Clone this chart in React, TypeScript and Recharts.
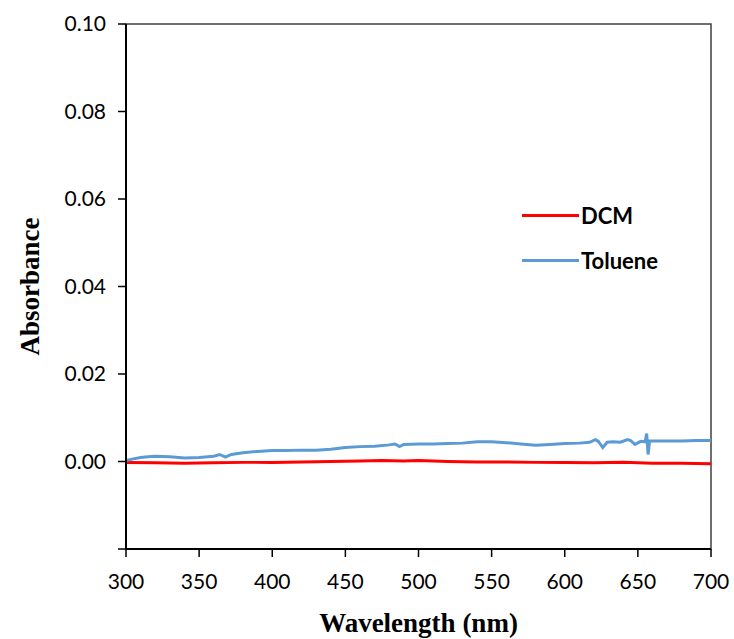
import React from "react";
import { LineChart, Line, XAxis, YAxis, ReferenceArea } from "recharts";

// UV-vis absorbance
const tolueneNm = [
  300, 305, 310, 315, 320, 330, 340, 350, 360, 364, 368, 372, 380, 390, 400,
  410, 420, 430, 440, 450, 460, 470, 480, 484, 487, 490, 500, 510, 520, 530,
  540, 550, 560, 570, 580, 590, 600, 610, 617, 621, 623, 626, 629, 633, 638,
  643, 645, 648, 652, 655, 656, 657, 658, 665, 680, 690, 700,
];
const tolueneAbs = [
  0.0002, 0.0006, 0.0009, 0.0011, 0.0012, 0.0011, 0.0008, 0.0009, 0.0012,
  0.0016, 0.001, 0.0016, 0.002, 0.0023, 0.0025, 0.0025, 0.0026, 0.0026, 0.0028,
  0.0032, 0.0034, 0.0035, 0.0038, 0.004, 0.0034, 0.0039, 0.004, 0.004, 0.0041,
  0.0042, 0.0045, 0.0045, 0.0043, 0.004, 0.0037, 0.0039, 0.0041, 0.0042,
  0.0044, 0.005, 0.0046, 0.0032, 0.0044, 0.0045, 0.0044, 0.005, 0.0048, 0.0039,
  0.0046, 0.0045, 0.0064, 0.0016, 0.0047, 0.0047, 0.0047, 0.0048, 0.0048,
];

const dcmNm = [
  300, 320, 340, 360, 380, 400, 420, 440, 460, 475, 490, 500, 520, 540, 560,
  580, 600, 620, 640, 660, 680, 700,
];
const dcmAbs = [
  -0.0002, -0.0003, -0.0004, -0.0003, -0.0002, -0.0002, -0.0001, 0.0, 0.0001,
  0.0002, 0.0001, 0.0002, 0.0, -0.0001, -0.0001, -0.0002, -0.0002, -0.0003,
  -0.0002, -0.0004, -0.0004, -0.0005,
];

const xTicks = [300, 350, 400, 450, 500, 550, 600, 650, 700];
const yTicks = [-0.02, 0, 0.02, 0.04, 0.06, 0.08, 0.1];

const series = [
  { name: "DCM", color: "#ff0000" },
  { name: "Toluene", color: "#5b9bd5" },
];

const tolueneData = tolueneNm.map((x, i) => ({ x, y: tolueneAbs[i] }));
const dcmData = dcmNm.map((x, i) => ({ x, y: dcmAbs[i] }));

const tickFont = { fontSize: 21, fill: "#000", fontFamily: "Lato, sans-serif" };
const titleFont = {
  fontFamily: "'Liberation Serif', serif",
  fontWeight: 700,
  fontSize: 27,
  fill: "#000",
};

function LegendBox() {
  return (
    <div
      style={{
        position: "absolute",
        left: 522,
        top: 193,
        fontFamily: "Lato, sans-serif",
        fontWeight: 700,
        fontSize: 22,
      }}
    >
      {series.map((s) => (
        <div key={s.name} style={{ display: "flex", alignItems: "center", height: 45 }}>
          <div style={{ width: 57, height: 3, background: s.color, marginRight: 2 }} />
          <span>{s.name}</span>
        </div>
      ))}
    </div>
  );
}

export default function App() {
  return (
    <div style={{ position: "absolute", left: 0, top: 0, width: 734, height: 639, background: "#fff" }}>
      <LineChart width={734} height={639} margin={{ top: 24, right: 23, bottom: 0, left: 0 }}>
        <ReferenceArea
          x1={300}
          x2={700}
          y1={-0.02}
          y2={0.1}
          fill="none"
          stroke="#404040"
          strokeWidth={1.5}
          ifOverflow="visible"
        />
        <XAxis
          type="number"
          dataKey="x"
          domain={[300, 700]}
          ticks={xTicks}
          allowDataOverflow
          height={90}
          tickSize={8}
          tickMargin={17}
          tick={tickFont}
          axisLine={{ stroke: "#000", strokeWidth: 2 }}
          tickLine={{ stroke: "#000", strokeWidth: 1.5 }}
          label={{ value: "Wavelength (nm)", position: "insideBottom", offset: 7, style: titleFont }}
        />
        <YAxis
          type="number"
          dataKey="y"
          domain={[-0.02, 0.1]}
          ticks={yTicks}
          allowDataOverflow
          width={126}
          tickSize={8}
          tickMargin={12}
          tick={tickFont}
          tickFormatter={(v: number) => (v < 0 ? "" : v.toFixed(2))}
          axisLine={{ stroke: "#000", strokeWidth: 2 }}
          tickLine={{ stroke: "#000", strokeWidth: 1.5 }}
          label={{
            value: "Absorbance",
            angle: -90,
            position: "insideLeft",
            offset: 29,
            style: { ...titleFont, textAnchor: "middle" },
          }}
        />
        <Line
          data={dcmData}
          dataKey="y"
          name="DCM"
          type="linear"
          stroke="#ff0000"
          strokeWidth={3}
          dot={false}
          isAnimationActive={false}
        />
        <Line
          data={tolueneData}
          dataKey="y"
          name="Toluene"
          type="linear"
          stroke="#5b9bd5"
          strokeWidth={3}
          dot={false}
          isAnimationActive={false}
        />
      </LineChart>
      <LegendBox />
    </div>
  );
}
